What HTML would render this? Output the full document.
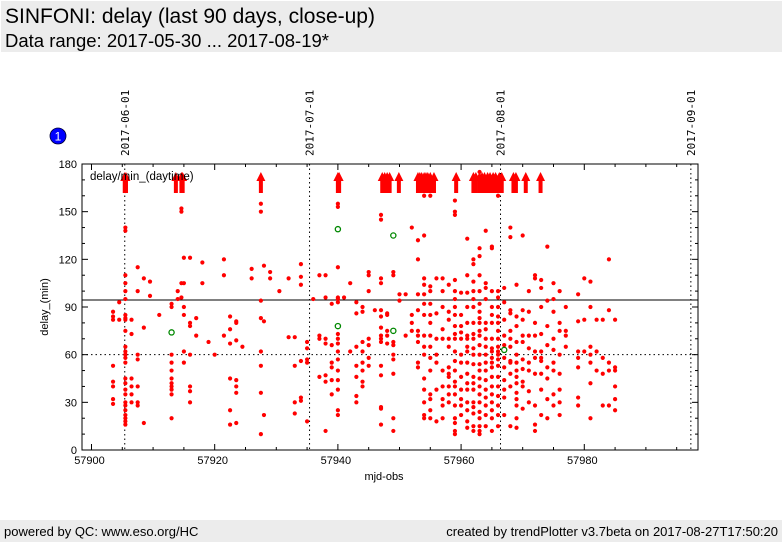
<!DOCTYPE html>
<html><head><meta charset="utf-8">
<style>
body{margin:0;width:782px;height:542px;background:#fff;overflow:hidden;font-family:"Liberation Sans","DejaVu Sans",sans-serif;}
#hdr{position:absolute;left:1px;top:1px;width:781px;height:51px;background:#ececec;}
#t1{position:absolute;left:4px;top:4px;font-size:21px;color:#000;white-space:nowrap;}
#t2{position:absolute;left:4px;top:29px;font-size:18.5px;color:#000;white-space:nowrap;}
#ftr{position:absolute;left:0;top:520px;width:782px;height:22px;background:#ececec;font-size:13px;}
#fl{position:absolute;left:4px;top:4px;}
#fr{position:absolute;right:4px;top:4px;}
svg{position:absolute;left:0;top:0;}
</style></head><body>
<div id="hdr">
<div id="t1">SINFONI: delay (last 90 days, close-up)</div>
<div id="t2">Data range: 2017-05-30 ... 2017-08-19*</div>
</div>
<svg id="chart" width="782" height="542"></svg>
<div id="ftr">
<span id="fl">powered by QC: www.eso.org/HC</span>
<span id="fr">created by trendPlotter v3.7beta on 2017-08-27T17:50:20</span>
</div>
<script>
const xTicks=[57900,57920,57940,57960,57980];
const yTicks=[0,30,60,90,120,150,180];
const dateLabels=["2017-06-01","2017-07-01","2017-08-01","2017-09-01"];
const dateMjd=[57905.4,57935.4,57966.4,57997.3];
const refLineSolid=94.4;
const refLineDotted=60;
const cols=[
[57903.5,[84,87,82,53,43,40,32,29]],
[57904.5,[82,93]],
[57905.5,[170,163,140,138,110,105,100,95,85,83,82,75,65,62,60,58,55,45,42,38,35,30,28,25,22,20,18,16]],
[57906.5,[82,73,45,40,35,30]],
[57907.5,[115,100,60,57,40,30,28]],
[57908.5,[108,77,17]],
[57909.5,[106,97]],
[57911,[85]],
[57913,[90,92,60,55,50,45,42,40,38,35,20]],
[57914,[100,95]],
[57914.6,[152,150,105,96]],
[57915,[121,105,90,85,62,55]],
[57916,[121,80,78,60,40,37,30]],
[57917,[83,72]],
[57918,[118,105]],
[57919,[68]],
[57920,[60]],
[57921.5,[120,110,72]],
[57922.5,[84,76,67,45,25,16]],
[57923.5,[80,81,69,44,40,36,17]],
[57924.5,[65]],
[57926,[114,108]],
[57927.5,[155,150,94,83,62,53,36,10]],
[57928,[116,81,22]],
[57929,[112,108]],
[57930.5,[100]],
[57932,[108,71]],
[57933,[71,53,30,23]],
[57934,[117,109,104,56,33,31]],
[57935,[57,55,68,64,18]],
[57936,[95]],
[57937,[110,70,72,46]],
[57938,[110,96,70,43,67,47,12]],
[57939,[92,66,55,52,44,35]],
[57940,[155,153,115,96,95,93,73,70,67,62,57,50,44,38,25,22]],
[57941,[96]],
[57942,[105,62]],
[57943,[93,86,65,53,46,34,30]],
[57944,[90,87,68,62,55,50,43,40]],
[57945,[100,112,110,58,66,70,53]],
[57946,[88]],
[57947,[148,145,108,105,88,84,77,72,70,68,53,47,27,26,16]],
[57948,[85,86,75,72,67]],
[57949,[112,110,68,66,60,57,48,20,12]],
[57950,[98,94]],
[57951,[98,72]],
[57952,[140,85,80,75]],
[57953,[132,120,98,88,75,72,68,55,52]],
[57954,[160,135,108,104,98,92,85,72,65,60,45,38,30,22,20]],
[57955,[160,103,100,92,85,80,72,65,58,50,35,32,25,20]],
[57956,[108,86,70,60,55,38,18]],
[57957,[108,100,90,76,70,50,40,32,28,20]],
[57958,[104,87,82,70,65,52,48,46,40,35,30]],
[57959,[157,150,148,107,100,95,90,85,78,73,70,62,56,50,43,40,35,28,20,17,12,10]],
[57960,[99,85,78,74,70,60,55,46,38,32,28,22]],
[57961,[133,110,99,90,80,72,70,65,62,55,48,42,38,30,25,18,14]],
[57962,[120,117,106,100,95,90,80,73,70,64,60,54,46,42,38,30,27,23,15,12]],
[57963,[175,127,122,110,100,92,87,83,80,75,72,66,60,54,50,45,40,35,30,24,20,15,12,10]],
[57964,[138,105,102,95,80,76,70,65,60,55,50,44,38,33,28,22,15]],
[57965,[128,127,100,90,85,80,70,64,62,58,55,52,46,40,35,30,25,20,12]],
[57966,[165,160,100,96,90,84,80,75,70,65,62,60,57,53,46,40,34,28,22,15]],
[57967,[102,93,82,72,66,58,52,44,38,33,22]],
[57968,[140,134,88,86,75,70,65,56,55,48,40,15]],
[57969,[104,84,78,68,60,55,50,46,42,36,32,28,20,14]],
[57970,[135,88,82,72,68,57,51,43,40,26]],
[57971,[100,87,72,64,55,50,37,30]],
[57972,[110,108,80,72,62,58,48,28,16,12]],
[57973,[107,102,90,73,62,58,56,48,38,22]],
[57974,[128,94,78,66,52,45,32,20]],
[57975,[105,95,87,70,63,55,50,35,28]],
[57976,[100,80,75,60,48,38,30,22]],
[57977,[90,75,72,65]],
[57979,[98,81,62,58,52,33,28]],
[57980,[108,82,62]],
[57981,[106,90,65,60,55,42,20]],
[57982,[82,62,50]],
[57983,[82,58,48,28]],
[57984,[120,88,55,50,28]],
[57985,[82,52,50,40,32,25]]
];
const greenX=[57913,57940,57940,57949,57949,57967];
const greenY=[74,139,78,135,75,63];
const overX=[57905.4,57905.6,57913.7,57914.6,57914.8,57927.5,57940,57940.2,57947.2,57947.6,57948,57948.4,57949.9,57953,57953.3,57953.6,57954,57954.3,57954.6,57955,57955.6,57959.2,57962,57962.4,57963,57963.4,57963.8,57964.3,57964.7,57965.2,57965.6,57966.2,57966.6,57968.5,57968.9,57970.5,57972.9];

const NS="http://www.w3.org/2000/svg";
const svg=document.getElementById('chart');
const L=82,R=698,T=164,B=450;
const X0=57898.46,X1=57998.46,Y0=0,Y1=180;
const sx=v=>L+(v-X0)/(X1-X0)*(R-L);
const sy=v=>B-(v-Y0)/(Y1-Y0)*(B-T);
function mk(tag,attrs){const e=document.createElementNS(NS,tag);for(const k in attrs)e.setAttribute(k,attrs[k]);svg.appendChild(e);return e;}

dateMjd.forEach((m,i)=>{
  const x=sx(m);
  const ln=mk('line',{x1:x,x2:x,y1:T,y2:B,stroke:'#000','stroke-dasharray':'1.5,3','stroke-width':1});
  
  
  const t=mk('text',{x:0,y:0,transform:`translate(${x+4},156) rotate(-90)`,'font-family':'"DejaVu Sans Mono","Liberation Mono",monospace','font-size':11});
  t.textContent=dateLabels[i];
  
  
});
const rs=mk('line',{x1:L,x2:R,y1:sy(refLineSolid),y2:sy(refLineSolid),stroke:'#000','stroke-width':1});


const rd=mk('line',{x1:L,x2:R,y1:sy(refLineDotted),y2:sy(refLineDotted),stroke:'#000','stroke-dasharray':'1.5,3','stroke-width':1});



cols.forEach(c=>{c[1].forEach(v=>{
  const p=mk('circle',{cx:sx(c[0]),cy:sy(v),r:2.1,fill:'#f00'});
  
  
});});
greenX.forEach((gx,i)=>{
  const p=mk('circle',{cx:sx(gx),cy:sy(greenY[i]),r:2.6,fill:'none',stroke:'#080','stroke-width':1.3});
  
  
});
overX.forEach(m=>{
  const x=sx(m);
  const a=mk('path',{d:`M${x-2},193 L${x-2},181 L${x-4.5},181 L${x},172 L${x+4.5},181 L${x+2},181 L${x+2},193 Z`,fill:'#f00'});
  
  
});

const fr=mk('rect',{x:L,y:T,width:R-L,height:B-T,fill:'none',stroke:'#000','stroke-width':1});


for(let v=57900;v<=57995;v+=5){
  const x=sx(v),len=(v%20===0)?6:3;
  const tk=mk('line',{x1:x,x2:x,y1:B,y2:B-len,stroke:'#000'});
  
  
  const tk2=mk('line',{x1:x,x2:x,y1:T,y2:T+len,stroke:'#000'});
  
  
}
xTicks.forEach(v=>{
  const t=mk('text',{x:sx(v)-2,y:464,'text-anchor':'middle','font-size':11});
  t.textContent=v;
  
  
});
for(let v=0;v<=180;v+=10){
  const y=sy(v),len=(v%30===0)?6:3;
  const tk=mk('line',{x1:L,x2:L+len,y1:y,y2:y,stroke:'#000'});
  
  
  const tk2=mk('line',{x1:R,x2:R-len,y1:y,y2:y,stroke:'#000'});
  
  
}
yTicks.forEach(v=>{
  const t=mk('text',{x:77,y:sy(v)+4,'text-anchor':'end','font-size':11});
  t.textContent=v;
  
  
});
const xt=mk('text',{x:384,y:480,'text-anchor':'middle','font-size':11});
xt.textContent='mjd-obs';


const yt=mk('text',{x:0,y:0,transform:'translate(48,307) rotate(-90)','text-anchor':'middle','font-size':11});
yt.textContent='delay_(min)';


const lg=mk('text',{x:90,y:180,'font-size':11.5});
lg.textContent='delay/min_(daytime)';


const bc=mk('circle',{cx:58,cy:136,r:8,fill:'#00f',stroke:'#003','stroke-width':0.8});


const bt=mk('text',{x:58,y:140.5,'text-anchor':'middle','font-size':12,fill:'#fff'});
bt.textContent='1';


</script>
</body></html>
